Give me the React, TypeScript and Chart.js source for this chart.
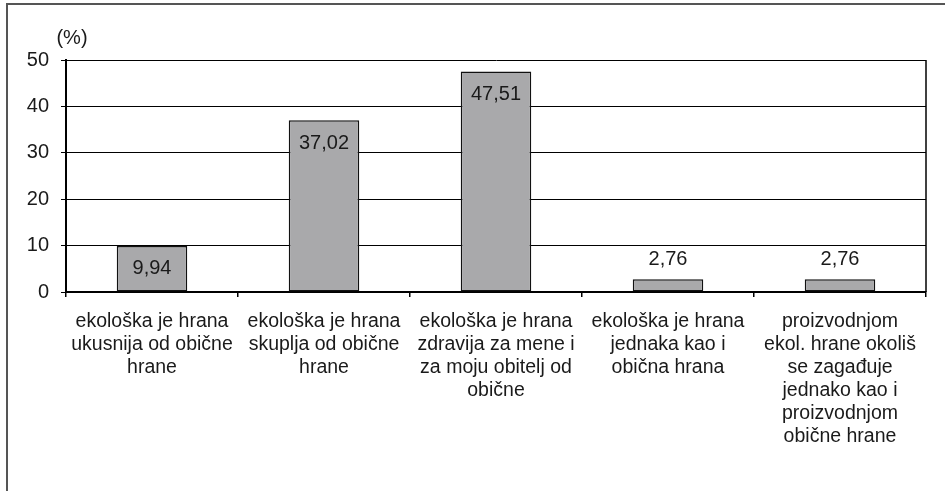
import React, { useEffect, useRef } from "react";
import { Chart, registerables } from "chart.js";

Chart.register(...registerables);

const categories: string[][] = [
  ["ekološka je hrana", "ukusnija od obične", "hrane"],
  ["ekološka je hrana", "skuplja od obične", "hrane"],
  ["ekološka je hrana", "zdravija za mene i", "za moju obitelj od", "obične"],
  ["ekološka je hrana", "jednaka kao i", "obična hrana"],
  ["proizvodnjom", "ekol. hrane okoliš", "se zagađuje", "jednako kao i", "proizvodnjom", "obične hrane"],
];
const values: number[] = [9.94, 37.02, 47.51, 2.76, 2.76];
const yTicks: number[] = [0, 10, 20, 30, 40, 50];
const unitLabel = "(%)";

const FONT = "'Liberation Sans', Arial, sans-serif";
const TEXT = "#1a1a1a";

export default function App() {
  const ref = useRef<HTMLCanvasElement | null>(null);
  useEffect(() => {
    if (!ref.current) return;
    const framePlugin = {
      id: "frame",
      afterDraw(chart: any) {
        const ctx = chart.ctx;
        const a = chart.chartArea;
        ctx.save();
        ctx.strokeStyle = "#000";
        ctx.lineWidth = 1.5;
        ctx.beginPath();
        ctx.moveTo(a.right, a.top);
        ctx.lineTo(a.right, a.bottom);
        ctx.stroke();
        ctx.strokeStyle = "#555";
        ctx.lineWidth = 2;
        ctx.beginPath();
        ctx.moveTo(7, 491);
        ctx.lineTo(7, 4);
        ctx.lineTo(945, 4);
        ctx.stroke();
        ctx.fillStyle = TEXT;
        ctx.font = `20px ${FONT}`;
        ctx.textAlign = "center";
        ctx.textBaseline = "middle";
        ctx.fillText(unitLabel, 72, 38);
        ctx.restore();
      },
    };
    const labelPlugin = {
      id: "valueLabels",
      afterDatasetsDraw(chart: any) {
        const ctx = chart.ctx;
        const meta = chart.getDatasetMeta(0);
        ctx.save();
        ctx.fillStyle = TEXT;
        ctx.font = `20px ${FONT}`;
        ctx.textAlign = "center";
        ctx.textBaseline = "middle";
        meta.data.forEach((bar: any, i: number) => {
          const v = values[i];
          const txt = v.toFixed(2).replace(".", ",");
          const y = v > 5 ? bar.y + 23 : bar.y - 20;
          ctx.fillText(txt, bar.x, y);
        });
        ctx.restore();
      },
    };
    const chart = new Chart(ref.current, {
      type: "bar",
      data: {
        labels: categories,
        datasets: [
          {
            data: values,
            backgroundColor: "#a9a9ab",
            borderColor: "#111",
            borderWidth: 1.5,
            borderSkipped: false,
            categoryPercentage: 1,
            barPercentage: 0.41,
          },
        ],
      },
      options: {
        responsive: false,
        animation: false,
        devicePixelRatio: 1,
        layout: { padding: { top: 60, right: 19, left: 0, bottom: 0 } },
        plugins: { legend: { display: false }, tooltip: { enabled: false } },
        scales: {
          x: {
            afterFit: (s: any) => {
              s.height = 199;
            },
            grid: {
              offset: true,
              drawOnChartArea: false,
              drawTicks: true,
              tickLength: 5,
              color: "#000",
              lineWidth: 1.5,
            },
            border: { display: true, color: "#000", width: 2 },
            ticks: {
              color: TEXT,
              font: { family: FONT, size: 19.5, lineHeight: "23px" },
              padding: 13,
              maxRotation: 0,
              autoSkip: false,
            },
          },
          y: {
            min: 0,
            max: 50,
            afterFit: (s: any) => {
              s.width = 66;
            },
            afterBuildTicks: (s: any) => {
              s.ticks = yTicks.map((v) => ({ value: v }));
            },
            grid: {
              color: "#000",
              lineWidth: 1,
              drawTicks: true,
              tickLength: 5,
            },
            border: { display: true, color: "#000", width: 2 },
            ticks: {
              color: TEXT,
              font: { family: FONT, size: 20 },
              padding: 12,
              stepSize: 10,
            },
          },
        },
      },
      plugins: [framePlugin, labelPlugin],
    });
    return () => chart.destroy();
  }, []);
  return (
    <div style={{ position: "absolute", left: 0, top: 0, width: 945, height: 491, background: "#fff" }}>
      <canvas ref={ref} width={945} height={491} />
    </div>
  );
}
